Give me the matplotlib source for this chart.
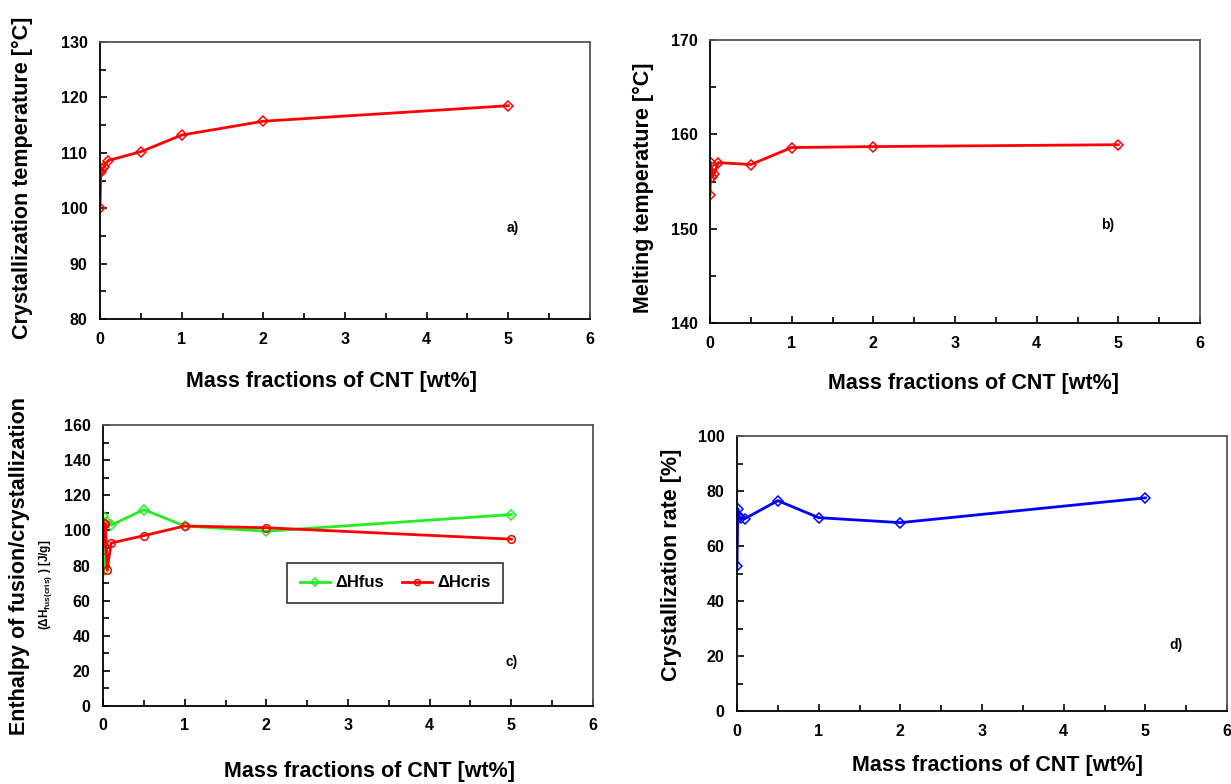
import matplotlib
matplotlib.use("Agg")
import matplotlib.pyplot as plt
from matplotlib.ticker import MultipleLocator

plt.rcParams['font.family'] = ['Liberation Sans', 'DejaVu Sans']
plt.rcParams['font.weight'] = 'bold'
plt.rcParams['mathtext.fontset'] = 'custom'
plt.rcParams['mathtext.bf'] = 'Liberation Sans:bold'
plt.rcParams['mathtext.rm'] = 'Liberation Sans:bold'
plt.rcParams['mathtext.default'] = 'bf'

# CNT loading (wt%)
cnt = [0, 0.01, 0.03, 0.05, 0.1, 0.5, 1, 2, 5]

# a) crystallization temperature [°C]
t_cryst = [100.0, 106.5, 107.0, 107.5, 108.6, 110.2, 113.2, 115.7, 118.5]
# b) melting temperature [°C]
t_melt = [153.6, 157.0, 155.5, 155.8, 157.0, 156.8, 158.6, 158.7, 158.9]
# c) enthalpies [J/g]
dh_fus = [108.0, 77.5, 104.0, 104.5, 103.0, 111.8, 102.5, 99.5, 109.0]
dh_cris = [89.0, 104.2, 103.5, 77.5, 92.8, 97.0, 102.5, 101.5, 95.0]
# d) crystallization rate [%]
cryst_rate = [52.7, 73.5, 70.5, 70.2, 70.0, 76.5, 70.3, 68.5, 77.5]

XLABEL = 'Mass fractions of CNT [wt%]'
LABEL_SIZE = 15.5

W, H = 1231, 784
fig = plt.figure(figsize=(W / 100, H / 100), dpi=100)


def px_axes(left, top, right, bottom):
    return fig.add_axes([left / W, 1 - bottom / H, (right - left) / W, (bottom - top) / H])


def px_text(x, y, s, **kw):
    # text placed by its centre, in pixels from the top-left corner
    kw.setdefault('fontsize', LABEL_SIZE)
    kw.setdefault('fontweight', 'bold')
    fig.text(x / W, 1 - y / H, s, ha='center', va='center', **kw)


def panel_tag(ax, x, y, s):
    ax.text(x, y, s, fontsize=10, fontweight='bold', ha='center', va='center')


def style(ax, ylim, ymajor):
    ax.set_xlim(0, 6)
    ax.set_ylim(*ylim)
    ax.xaxis.set_major_locator(MultipleLocator(1))
    ax.xaxis.set_minor_locator(MultipleLocator(0.5))
    ax.yaxis.set_major_locator(MultipleLocator(ymajor))
    ax.yaxis.set_minor_locator(MultipleLocator(ymajor / 2))
    ax.tick_params(which='both', direction='in', top=False, right=False, labelsize=11.5)
    ax.tick_params(which='major', length=5, width=1.2, pad=9)
    ax.tick_params(which='minor', length=4, width=1.2)
    for lab in ax.get_xticklabels() + ax.get_yticklabels():
        lab.set_fontweight('bold')
    for s in ax.spines.values():
        s.set_linewidth(1.3)
    ax.spines['top'].set_color('#555555')
    ax.spines['right'].set_color('#555555')


mk = dict(markersize=5.5, markerfacecolor='none', markeredgewidth=1.1, linewidth=2)

# a)
ax = px_axes(100, 42, 590, 319)
ax.plot(cnt, t_cryst, color='red', marker='D', **mk)
style(ax, (80, 130), 10)
panel_tag(ax, 5.05, 96.4, 'a)')
px_text(332, 381, XLABEL)
px_text(22, 178, 'Crystallization temperature [°C]', rotation=90)

# b)
ax = px_axes(710, 40, 1200, 323)
ax.plot(cnt, t_melt, color='red', marker='D', **mk)
style(ax, (140, 170), 10)
panel_tag(ax, 4.87, 150.4, 'b)')
px_text(974, 384, XLABEL)
px_text(643, 188, 'Melting temperature [°C]', rotation=90)

# c)
ax = px_axes(103, 425, 593, 706)
ax.plot(cnt, dh_fus, color='#22ee22', marker='D', label='ΔHfus', **mk)
ax.plot(cnt, dh_cris, color='red', marker='o', label='ΔHcris', **mk)
style(ax, (0, 160), 20)
panel_tag(ax, 5.0, 25.0, 'c)')
px_text(369, 772, XLABEL)
px_text(20, 566, 'Enthalpy of fusion/crystallization', rotation=90)
px_text(46, 585, r'($\Delta$H$_{fus(cris)}$ ) [J/g]', rotation=90, fontsize=8.5)
leg = ax.legend(loc='center', bbox_to_anchor=(0.596, 0.438), ncol=2, fontsize=12,
                frameon=True, fancybox=False, edgecolor='black', handlelength=1.8,
                handletextpad=0.3, columnspacing=1.1, borderpad=0.75, markerscale=0.8)
leg.get_frame().set_linewidth(1.2)
for t in leg.get_texts():
    t.set_fontweight('bold')

# d)
ax = px_axes(737, 436, 1227, 711)
ax.plot(cnt, cryst_rate, color='blue', marker='D', **mk)
style(ax, (0, 100), 20)
panel_tag(ax, 5.37, 24.0, 'd)')
px_text(997, 766, XLABEL)
px_text(672, 565, 'Crystallization rate [%]', rotation=90)

fig.savefig('out.png', dpi=100)
